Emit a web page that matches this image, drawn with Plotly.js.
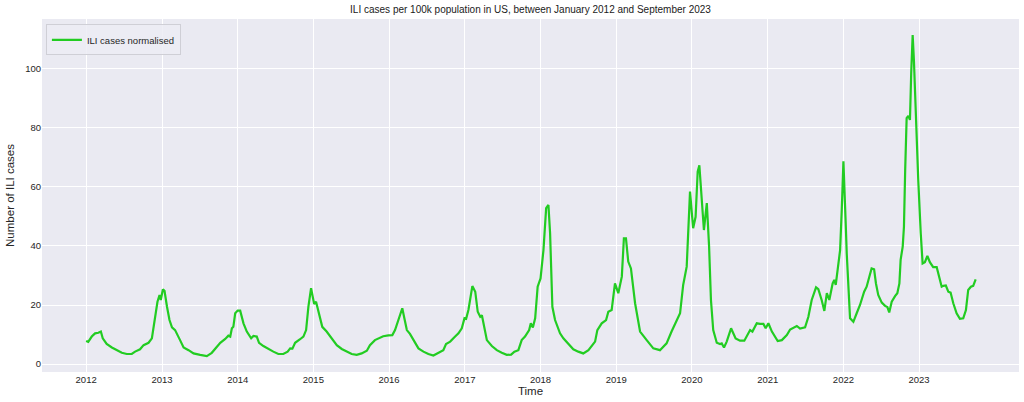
<!DOCTYPE html>
<html>
<head>
<meta charset="utf-8">
<script src="https://cdn.plot.ly/plotly-3.0.1.min.js"></script>
<style>
  html, body { margin: 0; padding: 0; background: #ffffff; }
  #chart { width: 1024px; height: 402px; }
</style>
</head>
<body>
<div id="chart"></div>
<script>
// Time as decimal years
const timeYears = [
  2012.000, 2012.030, 2012.075, 2012.119, 2012.162, 2012.194, 2012.221, 2012.273, 2012.339, 2012.405,
  2012.471, 2012.537, 2012.603, 2012.647, 2012.713, 2012.757, 2012.823, 2012.868, 2012.898, 2012.942,
  2012.968, 2012.986, 2013.013, 2013.034, 2013.066, 2013.100, 2013.132, 2013.175, 2013.241, 2013.285,
  2013.351, 2013.417, 2013.505, 2013.594, 2013.660, 2013.726, 2013.770, 2013.836, 2013.879, 2013.902,
  2013.924, 2013.945, 2013.968, 2014.001, 2014.034, 2014.077, 2014.122, 2014.179, 2014.209, 2014.254,
  2014.284, 2014.341, 2014.407, 2014.473, 2014.539, 2014.605, 2014.663, 2014.694, 2014.724, 2014.760,
  2014.826, 2014.869, 2014.905, 2014.935, 2014.971, 2015.011, 2015.037, 2015.068, 2015.120, 2015.178,
  2015.245, 2015.311, 2015.377, 2015.443, 2015.509, 2015.575, 2015.641, 2015.707, 2015.750, 2015.816,
  2015.869, 2015.926, 2015.992, 2016.045, 2016.080, 2016.124, 2016.177, 2016.203, 2016.235, 2016.278,
  2016.322, 2016.388, 2016.454, 2016.520, 2016.586, 2016.652, 2016.718, 2016.754, 2016.807, 2016.873,
  2016.916, 2016.961, 2016.995, 2017.018, 2017.048, 2017.101, 2017.137, 2017.172, 2017.203, 2017.225,
  2017.256, 2017.291, 2017.357, 2017.423, 2017.489, 2017.555, 2017.612, 2017.656, 2017.709, 2017.753,
  2017.797, 2017.850, 2017.872, 2017.899, 2017.929, 2017.962, 2018.002, 2018.039, 2018.074, 2018.105,
  2018.127, 2018.158, 2018.193, 2018.259, 2018.303, 2018.369, 2018.435, 2018.501, 2018.567, 2018.633,
  2018.721, 2018.752, 2018.810, 2018.867, 2018.897, 2018.942, 2018.986, 2019.029, 2019.074, 2019.104,
  2019.131, 2019.161, 2019.197, 2019.250, 2019.316, 2019.404, 2019.491, 2019.580, 2019.668, 2019.734,
  2019.800, 2019.844, 2019.887, 2019.932, 2019.976, 2020.019, 2020.051, 2020.078, 2020.099, 2020.131,
  2020.161, 2020.197, 2020.227, 2020.253, 2020.284, 2020.329, 2020.372, 2020.395, 2020.425, 2020.461,
  2020.517, 2020.579, 2020.636, 2020.693, 2020.738, 2020.768, 2020.799, 2020.857, 2020.900, 2020.944,
  2020.975, 2021.010, 2021.055, 2021.098, 2021.134, 2021.187, 2021.253, 2021.297, 2021.363, 2021.385,
  2021.429, 2021.495, 2021.538, 2021.583, 2021.640, 2021.670, 2021.715, 2021.749, 2021.781, 2021.815,
  2021.860, 2021.881, 2021.900, 2021.934, 2021.957, 2021.979, 2022.000, 2022.032, 2022.045, 2022.088,
  2022.132, 2022.177, 2022.221, 2022.274, 2022.309, 2022.344, 2022.375, 2022.406, 2022.432, 2022.463,
  2022.507, 2022.551, 2022.581, 2022.608, 2022.639, 2022.683, 2022.713, 2022.740, 2022.758, 2022.785,
  2022.802, 2022.819, 2022.838, 2022.859, 2022.881, 2022.898, 2022.917, 2022.934, 2022.961, 2022.991,
  2023.023, 2023.049, 2023.079, 2023.110, 2023.145, 2023.189, 2023.234, 2023.268, 2023.300, 2023.321,
  2023.356, 2023.387, 2023.418, 2023.453, 2023.498, 2023.541, 2023.585, 2023.621, 2023.651, 2023.687,
  2023.717, 2023.749
];

// ILI cases per 100k population (normalised)
const iliCases = [
  7.8, 7.5, 9.3, 10.4, 10.6, 11.0, 8.7, 6.8, 5.6, 4.7,
  3.8, 3.4, 3.4, 4.2, 5.0, 6.4, 7.2, 8.7, 13.8, 21.1,
  23.4, 21.7, 25.3, 24.8, 19.4, 14.9, 12.4, 11.5, 8.1, 5.6,
  4.7, 3.6, 3.1, 2.7, 3.8, 5.6, 7.2, 8.5, 9.6, 9.3,
  12.1, 12.6, 17.2, 18.1, 18.1, 13.8, 11.0, 8.7, 9.5, 9.3,
  7.2, 6.1, 5.0, 4.2, 3.4, 3.4, 4.2, 5.3, 5.2, 7.2,
  8.4, 9.3, 11.5, 19.4, 25.7, 20.3, 21.1, 17.7, 12.6, 11.0,
  8.7, 6.4, 5.1, 4.2, 3.4, 3.1, 3.6, 4.5, 6.4, 8.1,
  8.7, 9.4, 9.7, 9.8, 11.5, 14.9, 18.9, 15.5, 11.5, 10.2,
  8.1, 5.3, 4.2, 3.4, 2.9, 3.8, 4.7, 6.8, 7.6, 9.3,
  10.4, 12.1, 15.5, 15.3, 18.3, 26.4, 24.5, 17.7, 16.0, 16.5,
  12.1, 8.1, 6.1, 4.7, 3.8, 3.1, 3.2, 4.2, 4.7, 8.1,
  9.3, 11.5, 13.8, 12.4, 15.5, 26.2, 29.0, 38.6, 52.8, 53.9,
  44.3, 19.4, 14.9, 10.4, 8.7, 7.0, 5.0, 4.2, 3.6, 4.7,
  7.6, 11.5, 13.8, 14.9, 17.7, 18.3, 27.3, 24.0, 29.6, 42.6,
  42.6, 34.7, 32.4, 20.6, 11.0, 8.1, 5.3, 4.7, 7.0, 11.0,
  14.3, 17.2, 26.8, 33.0, 58.4, 46.0, 49.9, 65.2, 67.3, 55.0,
  45.4, 54.5, 39.8, 21.7, 11.5, 7.2, 6.8, 7.0, 5.6, 7.6,
  12.1, 8.7, 7.9, 7.9, 9.8, 11.5, 11.0, 13.8, 13.6, 13.6,
  12.1, 13.8, 11.0, 9.3, 7.8, 8.1, 9.8, 11.7, 12.4, 12.9,
  12.0, 12.4, 16.0, 21.7, 26.0, 25.4, 21.7, 18.0, 24.0, 21.7,
  27.3, 28.5, 26.8, 33.0, 38.6, 52.2, 68.7, 47.7, 37.5, 15.5,
  14.3, 17.2, 20.0, 24.5, 26.2, 29.6, 32.4, 32.1, 27.3, 23.4,
  20.8, 19.7, 19.3, 17.5, 21.1, 23.0, 24.0, 27.3, 35.3, 39.8,
  46.5, 65.8, 83.3, 84.1, 82.7, 98.5, 111.5, 103.0, 82.7, 62.4,
  44.3, 34.1, 34.5, 36.6, 34.5, 32.8, 32.8, 29.0, 26.2, 26.5,
  26.6, 24.5, 24.2, 20.6, 17.2, 15.3, 15.5, 18.3, 25.1, 26.2,
  26.5, 28.7
];

// Year tick labels on the x axis
const tickYears = [2012, 2013, 2014, 2015, 2016, 2017, 2018, 2019, 2020, 2021, 2022, 2023];
const yTicks = [0, 20, 40, 60, 80, 100];

const seriesName = 'ILI cases normalised';
const chartTitle = 'ILI cases per 100k population in US, between January 2012 and September 2023';
const xTitle = 'Time';
const yTitle = 'Number of ILI cases';

function yearToDate(t) {
  const y = Math.floor(t);
  const f = t - y;
  const a = Date.UTC(y, 0, 1), b = Date.UTC(y + 1, 0, 1);
  return new Date(a + f * (b - a)).toISOString().slice(0, 10);
}
const dates = timeYears.map(yearToDate);

const font = 'Liberation Sans, Arial, Helvetica, sans-serif';

const trace = {
  x: dates,
  y: iliCases,
  type: 'scatter',
  mode: 'lines',
  name: seriesName,
  line: { color: '#22cc22', width: 2.2 },
  showlegend: true
};

const layout = {
  width: 1024,
  height: 402,
  margin: { l: 42, r: 5, t: 19, b: 30 },
  paper_bgcolor: '#ffffff',
  plot_bgcolor: '#eaeaf2',
  font: { family: font, color: '#262626' },
  title: {
    text: chartTitle,
    font: { family: font, size: 10, color: '#1a1a1a' },
    x: 0.5, xref: 'paper', xanchor: 'center',
    y: 1, yref: 'container', yanchor: 'top', pad: { t: 6 }
  },
  showlegend: true,
  legend: {
    x: 0.004, y: 0.985, xanchor: 'left', yanchor: 'top',
    bgcolor: 'rgba(236,236,244,0.85)',
    bordercolor: '#cfcfd6', borderwidth: 1,
    font: { family: font, size: 9.5, color: '#262626' },
    itemwidth: 30
  },
  xaxis: {
    type: 'date',
    range: [yearToDate(2011.419), yearToDate(2024.320)],
    tickvals: tickYears.map(y => y + '-01-01'),
    ticktext: tickYears.map(String),
    showgrid: true,
    gridcolor: '#ffffff',
    gridwidth: 1,
    zeroline: false,
    showline: false,
    ticks: '',
    tickfont: { family: font, size: 9.5, color: '#262626' },
    title: { text: xTitle, font: { family: font, size: 11.5, color: '#262626' }, standoff: 3 }
  },
  yaxis: {
    range: [-2.7, 116.9],
    tickvals: yTicks,
    showgrid: true,
    gridcolor: '#ffffff',
    gridwidth: 1,
    zeroline: false,
    showline: false,
    ticks: '',
    tickfont: { family: font, size: 9.5, color: '#262626' },
    title: { text: yTitle, font: { family: font, size: 11.5, color: '#262626' }, standoff: 8 }
  }
};

Plotly.newPlot('chart', [trace], layout, { displayModeBar: false, staticPlot: true });
</script>
</body>
</html>
